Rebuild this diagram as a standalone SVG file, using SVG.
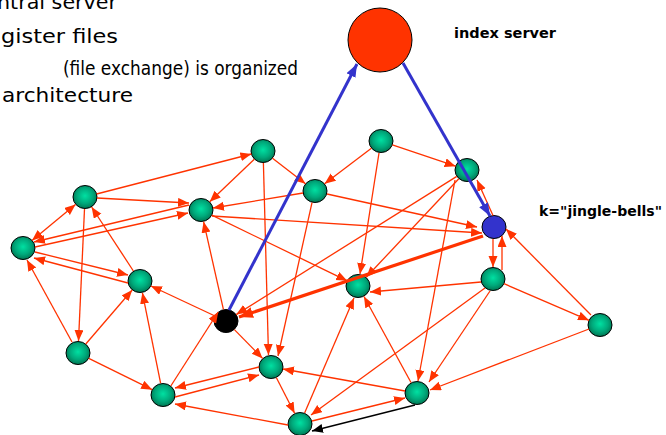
<svg xmlns="http://www.w3.org/2000/svg" width="666" height="435" viewBox="0 0 666 435">
  <defs>
    <radialGradient id="peerFill" cx="50%" cy="45%" r="55%">
      <stop offset="0" stop-color="#00E0A2"/>
      <stop offset="0.6" stop-color="#00A97B"/>
      <stop offset="1" stop-color="#007652"/>
    </radialGradient>
    <marker id="ah" markerUnits="userSpaceOnUse" markerWidth="12" markerHeight="10" refX="11" refY="4.5" orient="auto-start-reverse">
      <path d="M0,0 L11,4.5 L0,9 z" fill="#FF3300"/>
    </marker>
    <marker id="ahThick" markerUnits="userSpaceOnUse" markerWidth="15" markerHeight="12" refX="14" refY="5.5" orient="auto">
      <path d="M0,0 L14,5.5 L0,11 z" fill="#FF3300"/>
    </marker>
    <marker id="ahBlue" markerUnits="userSpaceOnUse" markerWidth="14" markerHeight="12" refX="13" refY="5" orient="auto">
      <path d="M0,0 L13,5 L0,10 z" fill="#3333CC"/>
    </marker>
    <marker id="ahBlack" markerUnits="userSpaceOnUse" markerWidth="12" markerHeight="10" refX="11" refY="4.5" orient="auto">
      <path d="M0,0 L11,4.5 L0,9 z" fill="#000"/>
    </marker>
  </defs>
  <style>
    .peer { fill: url(#peerFill); stroke: #000; stroke-width: 1; }
    .e { stroke: #FF3300; stroke-width: 1.3; fill: none; marker-end: url(#ah); }
    .thick { stroke: #FF3300; stroke-width: 3.2; marker-end: url(#ahThick); }
    .blue { stroke: #3333CC; stroke-width: 3; marker-end: url(#ahBlue); }
    .blk { stroke: #000; stroke-width: 1.4; marker-end: url(#ahBlack); }
    .bullet { font-family: "DejaVu Sans", "Liberation Sans", sans-serif; font-size: 20px; fill: #000; }
    .lbl { font-family: "DejaVu Sans", "Liberation Sans", sans-serif; font-size: 13.5px; font-weight: bold; fill: #000; }
  </style>

  <rect width="666" height="435" fill="#fff"/>

  <!-- slide text -->
  <text class="bullet" x="-3" y="9" textLength="120" lengthAdjust="spacingAndGlyphs">ntral server</text>
  <text class="bullet" x="1" y="43" textLength="117" lengthAdjust="spacingAndGlyphs">gister files</text>
  <text class="bullet" x="63" y="75" textLength="235" lengthAdjust="spacingAndGlyphs">(file exchange) is organized</text>
  <text class="bullet" x="2" y="102" textLength="131" lengthAdjust="spacingAndGlyphs">architecture</text>

  <!-- peers and index server -->
  <g id="index-server">
    <circle cx="380" cy="40" r="32" fill="#FF3300" stroke="#000" stroke-width="1"/>
    <text class="lbl" x="454" y="38" textLength="102" lengthAdjust="spacingAndGlyphs">index server</text>
  </g>
  <g id="peer-a"><ellipse class="peer" cx="263" cy="151" rx="12" ry="11.5"/></g>
  <g id="peer-b"><ellipse class="peer" cx="381" cy="141" rx="12" ry="11.5"/></g>
  <g id="peer-c"><ellipse class="peer" cx="315" cy="191" rx="12" ry="11.5"/></g>
  <g id="peer-d"><ellipse class="peer" cx="201" cy="210" rx="12" ry="11.5"/></g>
  <g id="peer-e"><ellipse class="peer" cx="85" cy="197" rx="12" ry="11.5"/></g>
  <g id="peer-f"><ellipse class="peer" cx="23" cy="248" rx="12" ry="11.5"/></g>
  <g id="peer-g"><ellipse class="peer" cx="140" cy="281" rx="12" ry="11.5"/></g>
  <g id="peer-h"><ellipse cx="226" cy="321" rx="12" ry="11.5" fill="#000" stroke="#000"/></g>
  <g id="peer-i"><ellipse class="peer" cx="358" cy="286" rx="12" ry="11.5"/></g>
  <g id="peer-j"><ellipse class="peer" cx="467" cy="170" rx="12" ry="11.5"/></g>
  <g id="peer-k">
    <ellipse cx="494" cy="227" rx="12" ry="11.5" fill="#3333CC" stroke="#000" stroke-width="1"/>
    <text class="lbl" x="539" y="216" textLength="123" lengthAdjust="spacingAndGlyphs">k="jingle-bells"</text>
  </g>
  <g id="peer-l"><ellipse class="peer" cx="493" cy="279" rx="12" ry="11.5"/></g>
  <g id="peer-m"><ellipse class="peer" cx="600" cy="325" rx="12" ry="11.5"/></g>
  <g id="peer-n"><ellipse class="peer" cx="78" cy="353" rx="12" ry="11.5"/></g>
  <g id="peer-o"><ellipse class="peer" cx="163" cy="395" rx="12" ry="11.5"/></g>
  <g id="peer-p"><ellipse class="peer" cx="271" cy="367" rx="12" ry="11.5"/></g>
  <g id="peer-q"><ellipse class="peer" cx="417" cy="393" rx="12" ry="11.5"/></g>
  <g id="peer-r"><ellipse class="peer" cx="300" cy="424" rx="12" ry="11.5"/></g>

  <!-- overlay links -->
  <g id="connectors">
    <line class="e" x1="96.6" y1="194" x2="251.4" y2="154"/>
    <line class="e" x1="97" y1="198" x2="189" y2="203"/>
    <line class="e" x1="32" y1="240.5" x2="75.5" y2="204.5" marker-start="url(#ah)"/>
    <line class="e" x1="189" y1="205" x2="34" y2="242"/>
    <line class="e" x1="35" y1="247" x2="188" y2="213"/>
    <line class="e" x1="35" y1="252" x2="128" y2="275"/>
    <line class="e" x1="128" y1="283" x2="34" y2="258"/>
    <line class="e" x1="72" y1="342" x2="27" y2="260"/>
    <line class="e" x1="84.5" y1="209" x2="78.5" y2="341"/>
    <line class="e" x1="133.4" y1="271" x2="91.6" y2="207"/>
    <line class="e" x1="85.8" y1="344" x2="132.2" y2="290"/>
    <line class="e" x1="88.8" y1="358.3" x2="152.2" y2="389.7"/>
    <line class="e" x1="160.6" y1="383.2" x2="142.4" y2="292.8"/>
    <line class="e" x1="215" y1="316" x2="151" y2="286"/>
    <line class="e" x1="170.8" y1="386" x2="218.2" y2="312"/>
    <line class="e" x1="259" y1="367" x2="175" y2="388"/>
    <line class="e" x1="175" y1="397" x2="259" y2="375"/>
    <line class="e" x1="288" y1="425" x2="175" y2="404"/>
    <line class="e" x1="234.4" y1="329.6" x2="262.6" y2="358.4"/>
    <line class="e" x1="276.4" y1="377.7" x2="294.6" y2="413.3"/>
    <line class="e" x1="263.4" y1="163" x2="268.5" y2="355"/>
    <line class="e" x1="312" y1="202.6" x2="278" y2="356"/>
    <line class="e" x1="254.3" y1="159.3" x2="209.7" y2="201.7"/>
    <line class="e" x1="272.5" y1="158.3" x2="305.5" y2="183.7"/>
    <line class="e" x1="371.4" y1="148.2" x2="324.6" y2="183.8"/>
    <line class="e" x1="392.4" y1="144.8" x2="455.6" y2="166.2"/>
    <line class="e" x1="379" y1="153" x2="360" y2="274"/>
    <line class="e" x1="303" y1="193" x2="213" y2="208"/>
    <line class="e" x1="327" y1="194" x2="477" y2="227"/>
    <line class="e" x1="212" y1="216" x2="482" y2="233"/>
    <line class="e" x1="211.8" y1="215.2" x2="347.2" y2="280.8"/>
    <line class="e" x1="223.4" y1="309.3" x2="203.6" y2="221.7"/>
    <line class="e" x1="456.8" y1="176.4" x2="236.2" y2="314.6"/>
    <line class="e" x1="458.8" y1="178.7" x2="366.2" y2="277.3"/>
    <line class="e" x1="455" y1="180" x2="418" y2="381"/>
    <line class="e" x1="493" y1="215.5" x2="477" y2="180"/>
    <line class="e" x1="493" y1="239" x2="493" y2="267"/>
    <line class="e" x1="502" y1="270" x2="502" y2="236"/>
    <line class="e" x1="591" y1="315" x2="506" y2="229"/>
    <line class="e" x1="504" y1="283.7" x2="589" y2="320.3"/>
    <line class="e" x1="481" y1="282" x2="370" y2="292"/>
    <line class="e" x1="485" y1="288" x2="311" y2="415"/>
    <line class="e" x1="490" y1="291" x2="429" y2="382"/>
    <line class="e" x1="589" y1="329" x2="430" y2="390"/>
    <line class="e" x1="411" y1="382.5" x2="364" y2="296.5"/>
    <line class="e" x1="304.6" y1="413" x2="354" y2="298"/>
    <line class="e" x1="405" y1="391" x2="283" y2="369"/>
    <line class="e" x1="312" y1="421" x2="405" y2="398"/>
    <line class="blk" x1="415" y1="405" x2="312" y2="431"/>
    <line class="thick" x1="483" y1="236" x2="239" y2="317"/>
    <line class="blue" x1="403" y1="63" x2="490" y2="216"/>
    <line class="blue" x1="229" y1="310" x2="357" y2="64"/>
  </g>
</svg>
